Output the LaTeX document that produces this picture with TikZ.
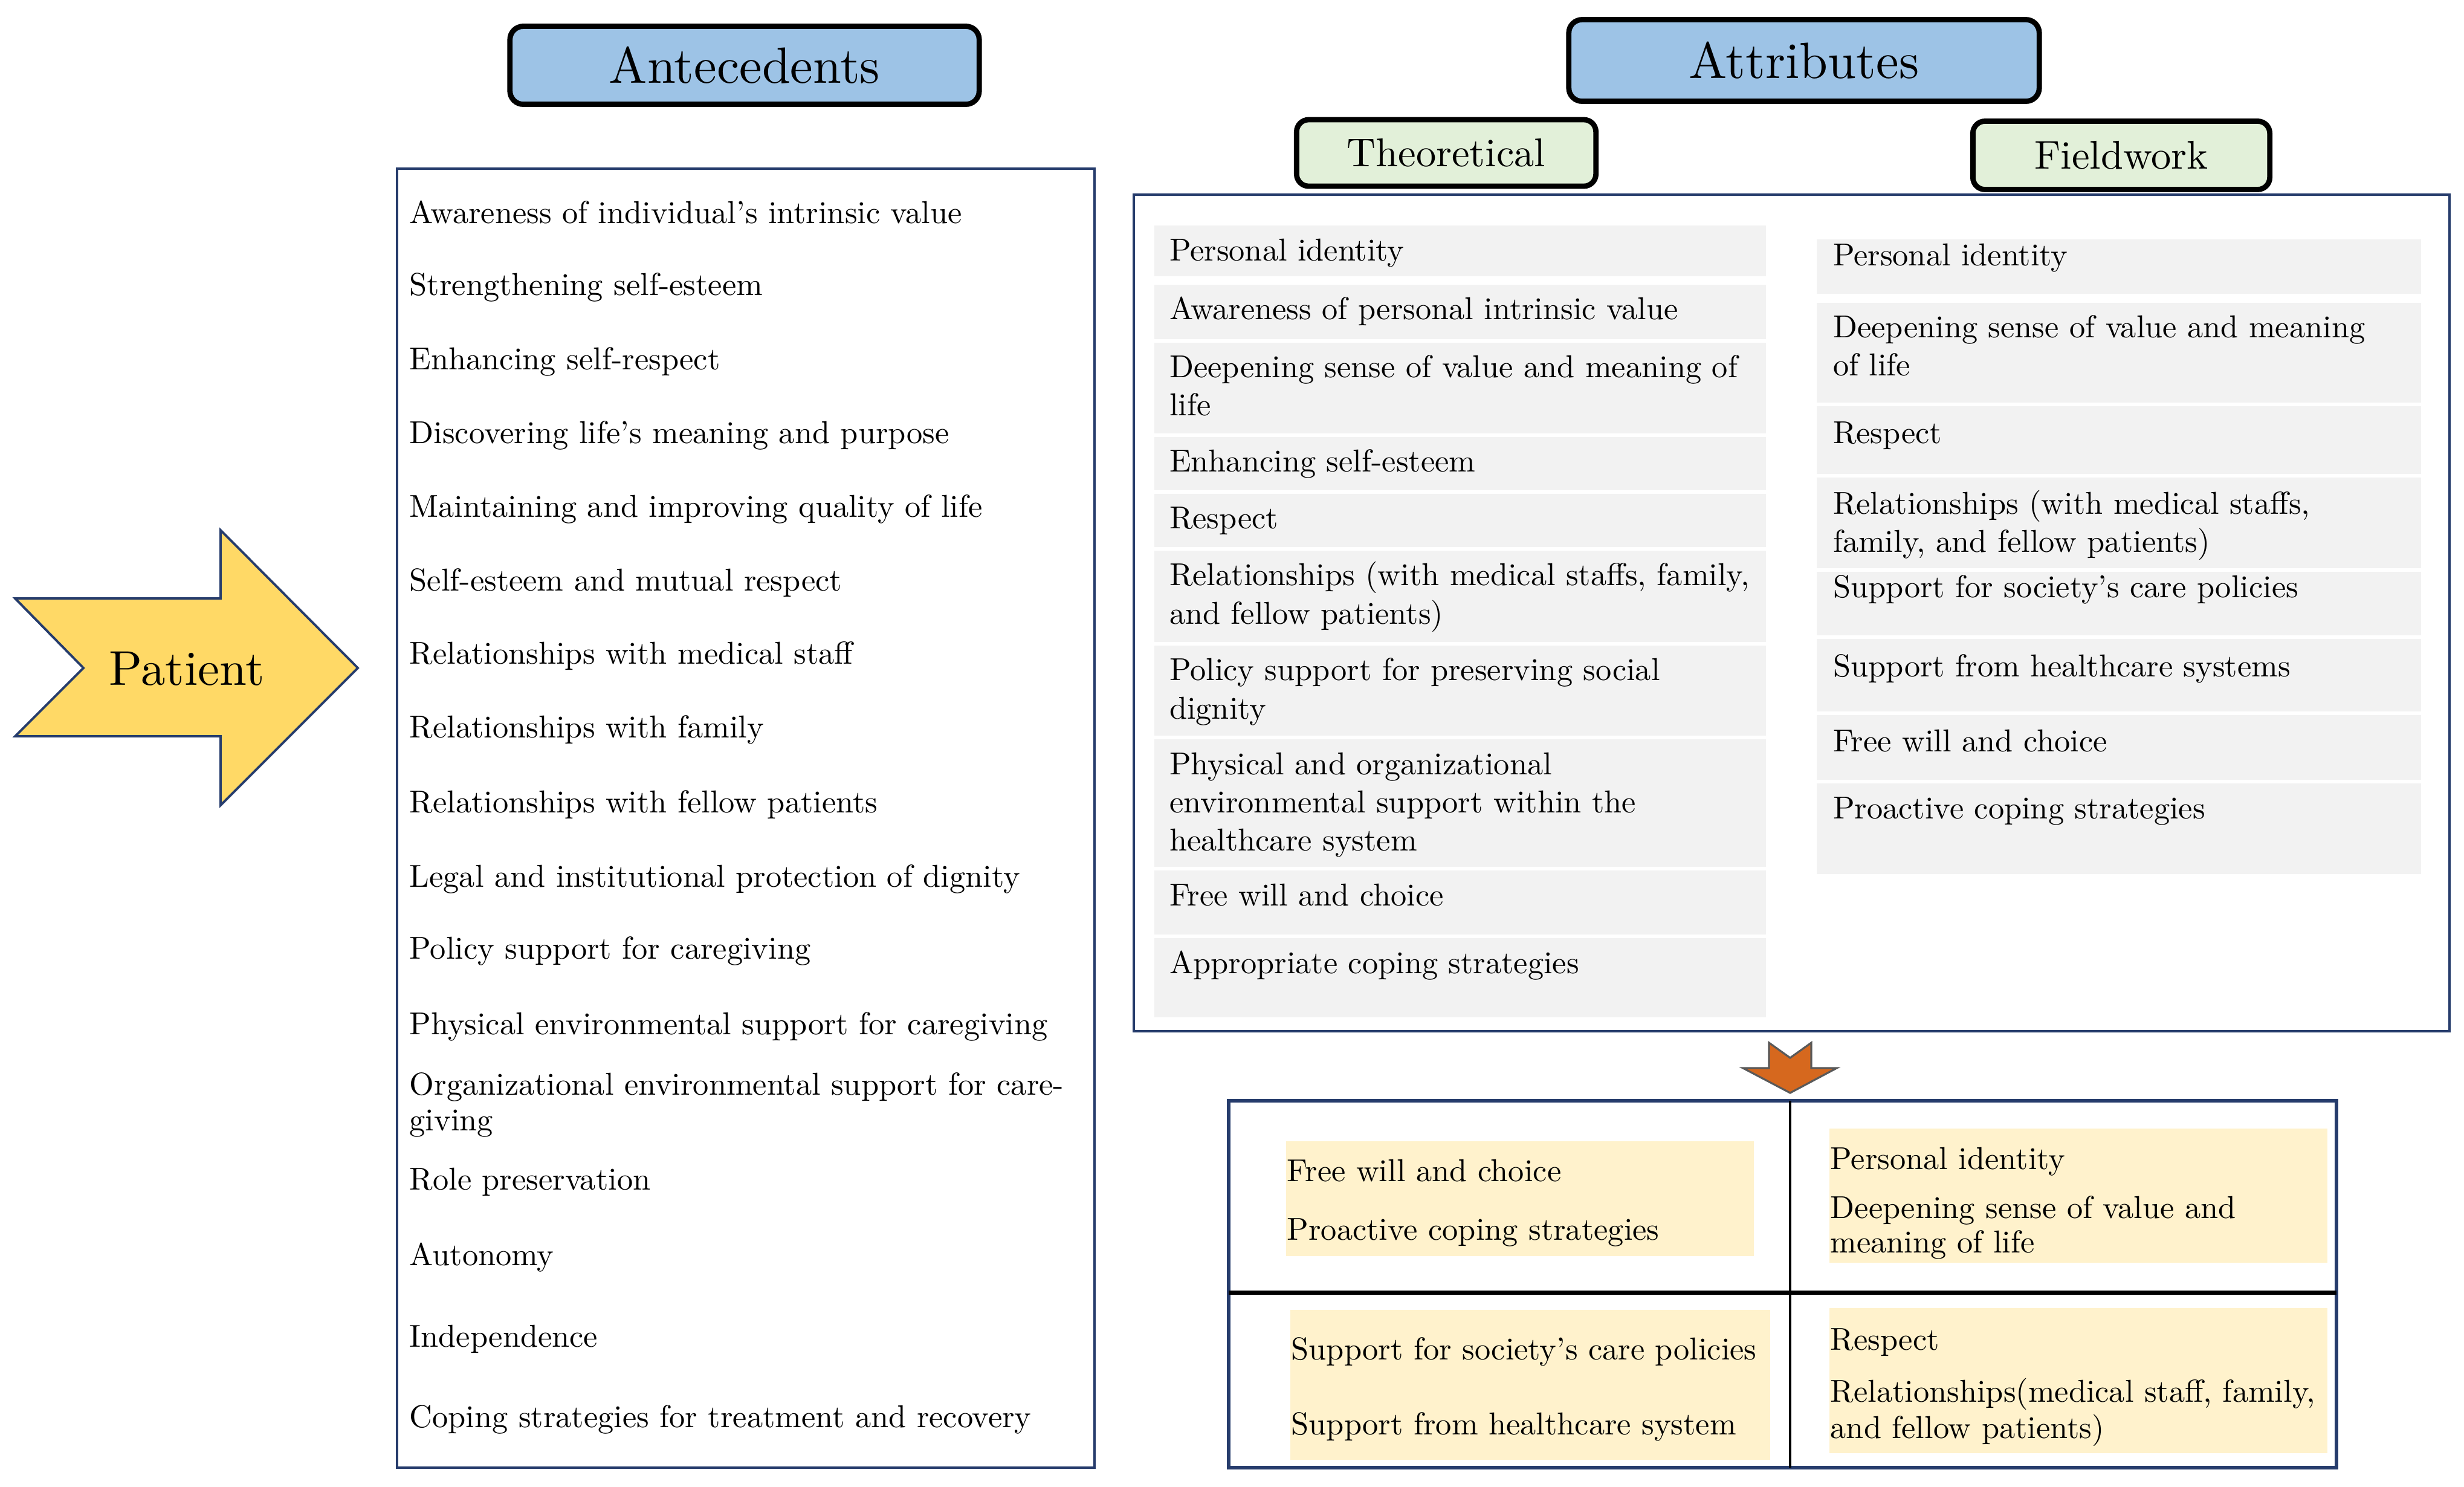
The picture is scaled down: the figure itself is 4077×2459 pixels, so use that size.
\documentclass[tikz,border=0pt]{standalone}
\usepackage{fontspec}
\setmainfont{lmroman10-regular.otf}[BoldFont=lmroman10-bold.otf, ItalicFont=lmroman10-italic.otf]
\usepackage{tikz}
\usetikzlibrary{positioning}
\usepackage{xcolor}
\definecolor{titleblue}{RGB}{157,195,230}
\definecolor{subgreen}{RGB}{226,240,217}
\definecolor{rowgray}{RGB}{242,242,242}
\definecolor{noteyellow}{RGB}{255,242,204}
\definecolor{framenavy}{RGB}{38,60,108}
\definecolor{patientgold}{RGB}{255,217,102}
\definecolor{downorange}{RGB}{214,104,30}

\begin{document}
\begin{tikzpicture}[x=0.01cm, y=-0.01cm, node distance=0.06cm,
    every node/.style={font=\fontsize{14.9}{18}\selectfont},
    title/.style={draw=black, line width=2.5pt, rounded corners=0.22cm,
                  fill=titleblue, font=\fontsize{24}{28}\selectfont},
    subtitle/.style={draw=black, line width=2.5pt, rounded corners=0.2cm,
                     fill=subgreen, font=\fontsize{18.9}{22}\selectfont},
    frame/.style={draw=framenavy, line width=1.1pt},
    item/.style={anchor=base west, inner sep=0pt, text width=12cm, align=left},
    trow/.style={fill=rowgray, text width=9.61cm, inner xsep=0.25cm,
                 inner ysep=0pt, outer sep=0pt, align=left, text height=0.58cm},
    frow/.style={fill=rowgray, text width=9.45cm, inner xsep=0.27cm,
                 inner ysep=0pt, outer sep=0pt, align=left},
    note/.style={fill=noteyellow, anchor=north west, inner xsep=0.02cm,
                 inner ysep=0pt, align=left}]
  \useasboundingbox (0,0) rectangle (4077,2459);

  % patient arrow
  \draw[draw=framenavy, line width=1.1pt, fill=patientgold]
    (25,990) -- (365,990) -- (365,877) -- (592,1105) -- (365,1332)
    -- (365,1218) -- (25,1218) -- (138,1105) -- cycle;
  \node[font=\fontsize{23}{27}\selectfont, anchor=base] (patient) at (309,1133) {Patient};

  % antecedents
  \draw[frame] (657,279) rectangle (1811,2428);
  \node[title, minimum width=7.76cm, minimum height=1.29cm] (ante) at (1232,108) {Antecedents};
  \node[item] (a1)  at (677,369)  {Awareness of individual's intrinsic value};
  \node[item] (a2)  at (677,488)  {Strengthening self-esteem};
  \node[item] (a3)  at (677,611)  {Enhancing self-respect};
  \node[item] (a4)  at (677,733)  {Discovering life's meaning and purpose};
  \node[item] (a5)  at (677,855)  {Maintaining and improving quality of life};
  \node[item] (a6)  at (677,977)  {Self-esteem and mutual respect};
  \node[item] (a7)  at (677,1098) {Relationships with medical staff};
  \node[item] (a8)  at (677,1220) {Relationships with family};
  \node[item] (a9)  at (677,1344) {Relationships with fellow patients};
  \node[item] (a10) at (677,1467) {Legal and institutional protection of dignity};
  \node[item] (a11) at (677,1586) {Policy support for caregiving};
  \node[item] (a12) at (677,1711) {Physical environmental support for caregiving};
  \node[item] (a13) at (677,1811) {Organizational environmental support for care-\\[-0.04cm]giving};
  \node[item] (a14) at (677,1968) {Role preservation};
  \node[item] (a15) at (677,2093) {Autonomy};
  \node[item] (a16) at (677,2228) {Independence};
  \node[item] (a17) at (677,2361) {Coping strategies for treatment and recovery};

  % attributes
  \draw[frame] (1876,322) rectangle (4053,1706);
  \node[title, minimum width=7.78cm, minimum height=1.35cm] (attr) at (2985,100) {Attributes};
  \node[subtitle, minimum width=4.95cm, minimum height=1.10cm] (theo) at (2393,253) {Theoretical};
  \node[subtitle, minimum width=4.91cm, minimum height=1.13cm] (field) at (3510,257) {Fieldwork};

  \node[trow, text depth=0.255cm, anchor=north west] (t1) at (1910,373) {Personal identity};
  \node[trow, text depth=0.32cm, below=0.14cm of t1] (t2) {Awareness of personal intrinsic value};
  \node[trow, text depth=0.92cm, below=of t2] (t3) {Deepening sense of value and meaning of\\life};
  \node[trow, text depth=0.30cm, below=of t3] (t4) {Enhancing self-esteem};
  \node[trow, text depth=0.30cm, below=of t4] (t5) {Respect};
  \node[trow, text depth=0.93cm, below=of t5] (t6) {Relationships (with medical staffs, family,\\and fellow patients)};
  \node[trow, text depth=0.91cm, below=of t6] (t7) {Policy support for preserving social\\dignity};
  \node[trow, text depth=1.53cm, below=of t7] (t8) {Physical and organizational\\environmental support within the\\healthcare system};
  \node[trow, text depth=0.48cm, below=of t8] (t9) {Free will and choice};
  \node[trow, text depth=0.73cm, below=of t9] (t10) {Appropriate coping strategies};

  \node[frow, text height=0.43cm, text depth=0.47cm, anchor=north west] (f1) at (3006,396) {Personal identity};
  \node[frow, text height=0.57cm, text depth=1.08cm, below=0.15cm of f1] (f2) {Deepening sense of value and meaning\\of life};
  \node[frow, text height=0.61cm, text depth=0.51cm, below=of f2] (f3) {Respect};
  \node[frow, text height=0.60cm, text depth=0.90cm, below=of f3] (f4) {Relationships (with medical staffs,\\family, and fellow patients)};
  \node[frow, text height=0.42cm, text depth=0.63cm, below=of f4] (f5) {Support for society's care policies};
  \node[frow, text height=0.62cm, text depth=0.58cm, below=of f5] (f6) {Support from healthcare systems};
  \node[frow, text height=0.60cm, text depth=0.46cm, below=of f6] (f7) {Free will and choice};
  \node[frow, text height=0.59cm, text depth=0.91cm, below=of f7] (f8) {Proactive coping strategies};

  % down arrow and summary grid
  \draw[draw=black!65, line width=0.9pt, fill=downorange]
    (2927,1725) -- (2962,1750) -- (2997,1725) -- (2997,1767) -- (3039,1767)
    -- (2962,1808) -- (2884,1767) -- (2927,1767) -- cycle;
  \draw[draw=framenavy, line width=1.5pt] (2033,1821) rectangle (3866,2428);
  \draw[black, line width=1.1pt] (2962,1821) -- (2962,2428);
  \draw[black, line width=2pt] (2033,2138) -- (3866,2138);

  \node[note, text width=7.70cm, text height=0.67cm, text depth=1.23cm] (n1) at (2127,1887)
    {Free will and choice\\[0.33cm]Proactive coping strategies};
  \node[note, text width=8.20cm, text height=0.68cm, text depth=1.54cm] (n2) at (3026,1866)
    {Personal identity\\[0.17cm]Deepening sense of value and\\[-0.06cm]meaning of life};
  \node[note, text width=7.90cm, text height=0.83cm, text depth=1.65cm] (n3) at (2134,2166)
    {\mbox{Support for society's care policies}\\[0.6cm]Support from healthcare system};
  \node[note, text width=8.20cm, text height=0.70cm, text depth=1.70cm] (n4) at (3026,2163)
    {Respect\\[0.22cm]\mbox{Relationships(medical staff, family,}\\[-0.03cm]and fellow patients)};
\end{tikzpicture}
\end{document}
